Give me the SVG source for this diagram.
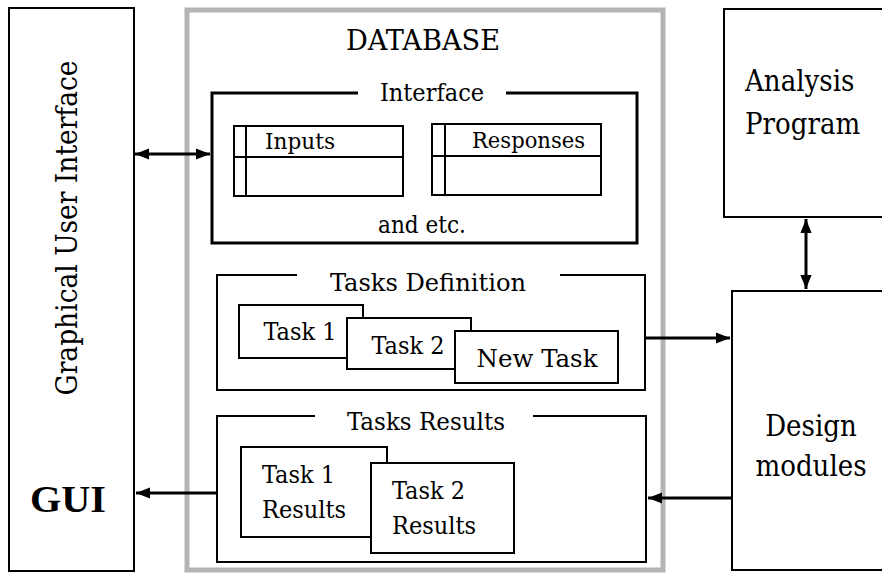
<svg xmlns="http://www.w3.org/2000/svg" width="882" height="575" viewBox="0 0 882 575">
<style>
text{font-family:'DejaVu Serif Condensed','DejaVu Serif',serif;fill:#000}
.box{fill:#fff;stroke:#000;stroke-width:2}
.thick{fill:#fff;stroke:#000;stroke-width:3}
.gap{fill:#fff;stroke:none}
.c{stroke:#000;stroke-width:3;fill:none}
.t26{font-size:25px}
.t22{font-size:22px}
.t24{font-size:24px}
.t30{font-size:29px}
</style>
<defs>
<marker id="a" viewBox="0 0 10 10" refX="10" refY="5" markerWidth="14" markerHeight="14" orient="auto-start-reverse" markerUnits="userSpaceOnUse">
<path d="M0,1 L10,5 L0,9 z" fill="#000"/>
</marker>
</defs>
<rect width="882" height="575" fill="#fff"/>

<g id="gui">
<rect class="box" x="9" y="8" width="125" height="563"/>
<text class="t30" transform="translate(77,228) rotate(-90)" text-anchor="middle" textLength="335" lengthAdjust="spacingAndGlyphs">Graphical User Interface</text>
<text x="68" y="512" font-size="37" font-weight="bold" text-anchor="middle" textLength="76" lengthAdjust="spacingAndGlyphs" style="font-family:'Liberation Serif',serif">GUI</text>
</g>

<g id="database">
<rect x="187" y="10" width="476" height="560" fill="#fff" stroke="#b4b4b4" stroke-width="5"/>
<text x="423" y="50" font-size="27" text-anchor="middle" textLength="154" lengthAdjust="spacingAndGlyphs">DATABASE</text>
</g>

<g id="interface">
<rect class="thick" x="212" y="93" width="425" height="150"/>
<rect class="gap" x="358" y="86" width="148" height="14"/>
<text class="t26" x="432" y="101" text-anchor="middle">Interface</text>
<g id="inputs">
<rect class="box" x="234" y="126" width="169" height="70"/>
<line x1="234" y1="157" x2="403" y2="157" stroke="#000" stroke-width="2"/>
<line x1="246" y1="126" x2="246" y2="196" stroke="#000" stroke-width="2"/>
<text class="t22" x="265" y="149" textLength="70" lengthAdjust="spacingAndGlyphs">Inputs</text>
</g>
<g id="responses">
<rect class="box" x="432" y="124" width="169" height="71"/>
<line x1="432" y1="156" x2="601" y2="156" stroke="#000" stroke-width="2"/>
<line x1="445" y1="124" x2="445" y2="195" stroke="#000" stroke-width="2"/>
<text class="t22" x="472" y="148" textLength="113" lengthAdjust="spacingAndGlyphs">Responses</text>
</g>
<text class="t24" x="422" y="233" text-anchor="middle">and etc.</text>
</g>

<g id="tasks-definition">
<rect class="box" x="217" y="275" width="428" height="115"/>
<rect class="gap" x="297" y="268" width="263" height="14"/>
<text class="t26" x="428" y="291" text-anchor="middle" textLength="196" lengthAdjust="spacingAndGlyphs">Tasks Definition</text>
<g id="task1"><rect class="box" x="239" y="305" width="124" height="53"/><text class="t26" x="300" y="340" text-anchor="middle">Task 1</text></g>
<g id="task2"><rect class="box" x="347" y="318" width="124" height="51"/><text class="t26" x="408" y="354" text-anchor="middle">Task 2</text></g>
<g id="newtask"><rect class="box" x="455" y="331" width="163" height="52"/><text class="t26" x="537" y="367" text-anchor="middle" textLength="121" lengthAdjust="spacingAndGlyphs">New Task</text></g>
</g>

<g id="tasks-results">
<rect class="box" x="217" y="416" width="429" height="146"/>
<rect class="gap" x="315" y="409" width="218" height="14"/>
<text class="t26" x="426" y="430" text-anchor="middle" textLength="158" lengthAdjust="spacingAndGlyphs">Tasks Results</text>
<g id="task1-results"><rect class="box" x="241" y="447" width="146" height="90"/><text class="t26" x="262" y="483">Task 1</text><text class="t26" x="262" y="518">Results</text></g>
<g id="task2-results"><rect class="box" x="371" y="463" width="143" height="90"/><text class="t26" x="392" y="499">Task 2</text><text class="t26" x="392" y="534">Results</text></g>
</g>

<g id="analysis">
<rect class="box" x="724" y="9" width="170" height="208"/>
<text class="t30" x="745" y="91">Analysis</text>
<text class="t30" x="745" y="134">Program</text>
</g>

<g id="design">
<rect class="box" x="732" y="291" width="162" height="279"/>
<text class="t30" x="811" y="436" text-anchor="middle">Design</text>
<text class="t30" x="811" y="476" text-anchor="middle">modules</text>
</g>

<g id="connectors">
<line class="c" x1="135" y1="154" x2="210" y2="154" marker-start="url(#a)" marker-end="url(#a)"/>
<line class="c" x1="806" y1="219" x2="806" y2="289" marker-start="url(#a)" marker-end="url(#a)"/>
<line class="c" x1="646" y1="338" x2="730" y2="338" marker-end="url(#a)"/>
<line class="c" x1="731" y1="498" x2="648" y2="498" marker-end="url(#a)"/>
<line class="c" x1="216" y1="493" x2="136" y2="493" marker-end="url(#a)"/>
</g>
</svg>
